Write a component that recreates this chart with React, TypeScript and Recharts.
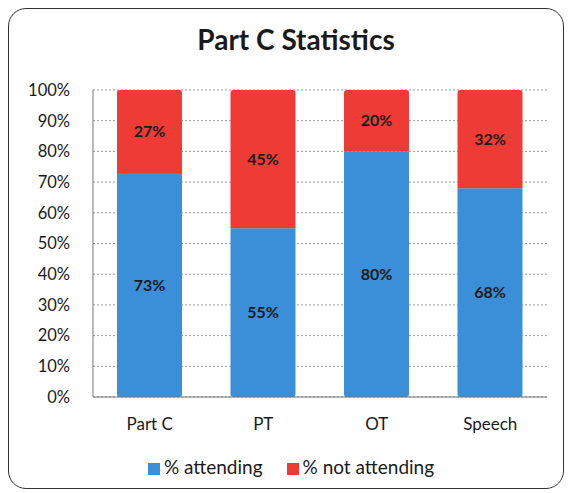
import React from 'react';
import { BarChart, Bar, XAxis, YAxis, CartesianGrid, Legend, LabelList } from 'recharts';

const categories = ['Part C', 'PT', 'OT', 'Speech'];
const attending = [73, 55, 80, 68];
const notAttending = [27, 45, 20, 32];
const yTicks = [0, 10, 20, 30, 40, 50, 60, 70, 80, 90, 100];

const data = categories.map((name, i) => ({
  name,
  attending: attending[i],
  notAttending: notAttending[i],
}));

const FONT = 'Lato, "Open Sans", sans-serif';

const App: React.FC = () => {
  return (
    <div
      style={{
        position: 'relative',
        width: 554,
        height: 479,
        border: '1.5px solid #333',
        borderRadius: 18,
        background: '#fff',
        fontFamily: FONT,
      }}
    >
      <div
        style={{
          position: 'absolute',
          top: 13,
          left: 10,
          width: 554,
          textAlign: 'center',
          fontSize: 28,
          fontWeight: 700,
          color: '#1a1a1a',
        }}
      >
        Part C Statistics
      </div>
      <BarChart
        width={554}
        height={479}
        data={data}
        margin={{ top: 81, right: 16, bottom: 10, left: 10 }}
        barSize={65}
        style={{ fontFamily: FONT }}
      >
        <CartesianGrid vertical={false} stroke="#999" strokeDasharray="2 2" />
        <XAxis
          dataKey="name"
          tickLine={false}
          axisLine={{ stroke: '#777' }}
          tick={{ fill: '#1a1a1a', fontSize: 17 }}
          tickMargin={15}
          height={58}
        />
        <YAxis
          width={74}
          domain={[0, 100]}
          ticks={yTicks}
          tickFormatter={(v: number) => `${v}%`}
          tickLine={false}
          tickSize={0}
          tickMargin={23}
          axisLine={{ stroke: '#777' }}
          tick={{ fill: '#1a1a1a', fontSize: 16.5 }}
        />
        <Legend
          verticalAlign="bottom"
          iconType="square"
          iconSize={12}
          wrapperStyle={{ fontSize: 19, color: '#1a1a1a', paddingLeft: 20 }}
          formatter={(value: string) => (
            <span style={{ color: '#1a1a1a', marginRight: 14 }}>{value}</span>
          )}
        />
        <Bar dataKey="attending" name="% attending" stackId="a" fill="#3b8fd8" isAnimationActive={false} radius={[0, 0, 3, 3]}>
          <LabelList
            dataKey="attending"
            position="center"
            formatter={(v: number) => `${v}%`}
            style={{ fill: '#1a1a1a', fontWeight: 700, fontSize: 16 }}
          />
        </Bar>
        <Bar dataKey="notAttending" name="% not attending" stackId="a" fill="#ee3b35" isAnimationActive={false} radius={[3, 3, 0, 0]}>
          <LabelList
            dataKey="notAttending"
            position="center"
            formatter={(v: number) => `${v}%`}
            style={{ fill: '#1a1a1a', fontWeight: 700, fontSize: 16 }}
          />
        </Bar>
      </BarChart>
    </div>
  );
};

export default App;
